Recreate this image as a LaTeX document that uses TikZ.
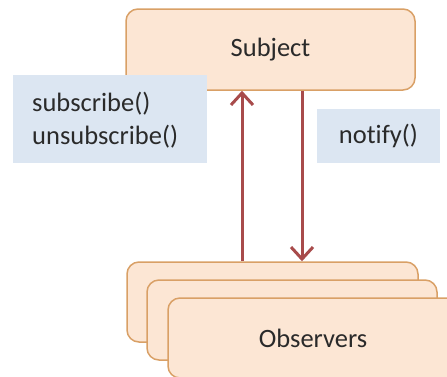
\documentclass[tikz,border=0pt]{standalone}
\usepackage{fontspec}
\setmainfont[Ligatures={NoCommon}]{Carlito}
\usetikzlibrary{arrows.meta}
\definecolor{peach}{HTML}{FCE6D4}
\definecolor{peachline}{HTML}{D9A066}
\definecolor{paleblue}{HTML}{DCE6F2}
\definecolor{arrowred}{HTML}{A84B4B}
\definecolor{ink}{HTML}{2A2A2A}
\begin{document}
\begin{tikzpicture}[x=1pt,y=-1pt,
  font=\fontsize{26.5}{33}\selectfont, text=ink,
  rolebox/.style={draw=peachline, fill=peach, line width=1.5pt, rounded corners=12pt,
    minimum width=290pt, minimum height=80pt, inner sep=0pt},
  notebox/.style={fill=paleblue, inner sep=0pt},
  flow/.style={draw=arrowred, line width=3pt,
    -{Straight Barb[length=12pt,width=22pt,line width=3pt]}}]
  \useasboundingbox (0,0) rectangle (447,376);
  \clip (0,0) rectangle (447,376);
  \fill[white] (0,0) rectangle (447,376);

  % subject
  \node[rolebox, minimum width=289pt, minimum height=81pt] (subj) at (270.5,49.5) {Subject};

  % method labels
  \node[notebox, minimum width=194pt, minimum height=88pt] (sub) at (110,119) {};
  \node[anchor=west, align=left, inner sep=0pt] (subtxt) at (32,120)
    {subscribe()\\unsubscribe()};
  \node[notebox, minimum width=123pt, minimum height=54pt] (notify) at (378.5,136) {notify()};

  % stacked observers
  \node[rolebox, minimum width=291pt] (o1) at (272.5,302) {};
  \node[rolebox] (o2) at (292,320) {};
  \node[rolebox] (o3) at (313,338) {Observers};

  % connectors
  \coordinate (upx) at (242,0);
  \coordinate (downx) at (302,0);
  \draw[flow] (upx |- o1.north) -- (upx |- subj.south);
  \draw[flow] (downx |- subj.south) -- (downx |- o1.north);
\end{tikzpicture}
\end{document}
